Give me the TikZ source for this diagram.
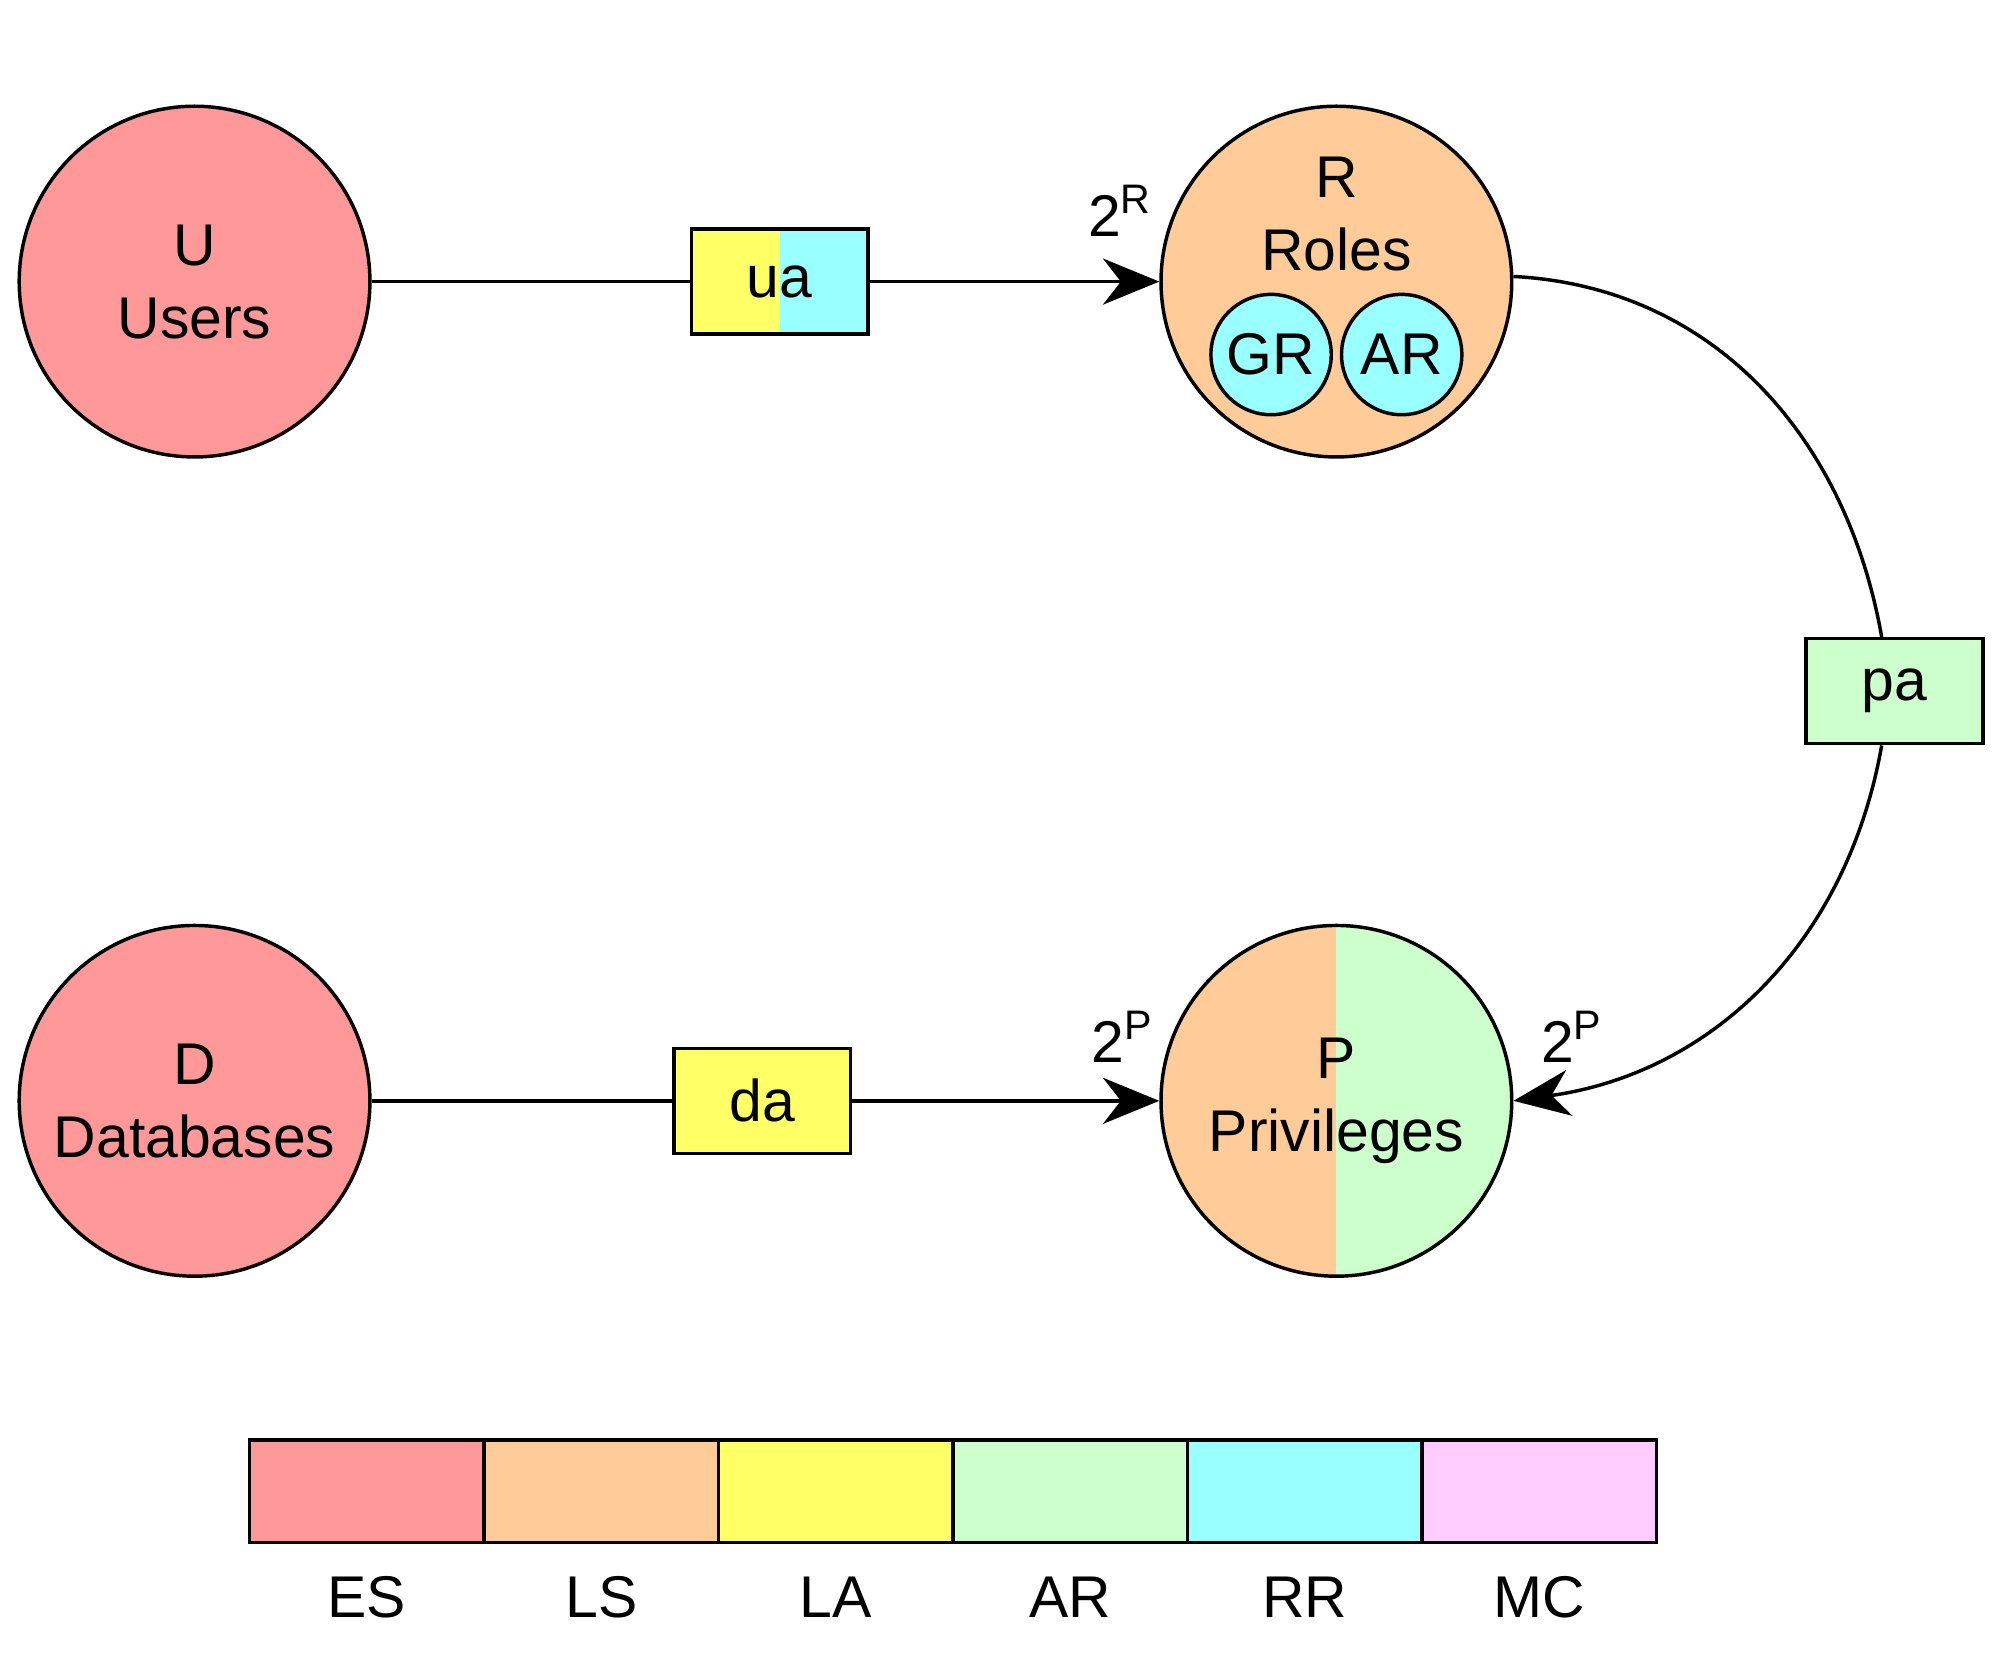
\documentclass[tikz,border=0pt]{standalone}
\usepackage{fontspec}
\setmainfont{Liberation Sans}
\usetikzlibrary{arrows.meta}
\definecolor{ES}{HTML}{FF9999}
\definecolor{LS}{HTML}{FFCC99}
\definecolor{LA}{HTML}{FFFF66}
\definecolor{AR}{HTML}{CCFFCC}
\definecolor{RR}{HTML}{99FFFF}
\definecolor{MC}{HTML}{FFCCFF}

\begin{document}
\begin{tikzpicture}[x=0.5pt,y=0.5pt,line width=1.35pt,
  font=\fontsize{23}{28.5}\selectfont,
  set/.style={circle,draw,minimum size=137pt,inner sep=0pt,align=center},
  subset/.style={circle,draw,fill=RR,minimum size=47pt,inner sep=0pt},
  rel/.style={rectangle,draw,minimum width=69pt,minimum height=41pt,inner sep=0pt},
  halves/.style 2 args={path picture={
    \fill[#1] (path picture bounding box.south west) rectangle (path picture bounding box.north);
    \fill[#2] (path picture bounding box.south) rectangle (path picture bounding box.north east);}},
  legcell/.style={rectangle,draw,minimum width=91.6pt,minimum height=40pt,inner sep=0pt},
  arr/.style={-{Stealth[length=22pt,width=18pt,inset=7pt]}}]
\useasboundingbox (0,0) rectangle (1564,1300);
% sets
\node[set,fill=ES] (U) at (152,1080) {U\\Users};
\node[set,fill=ES] (D) at (152,440) {D\\Databases};
\node[set,fill=LS] (R) at (1044,1080) {};
\node[align=center] (Rtext) at (1044,1133) {R\\Roles};
\node[subset] (GR) at (993,1023) {GR};
\node[subset] (ARr) at (1095,1023) {AR};
\node[set,halves={LS}{AR}] (P) at (1044,440) {P\\Privileges};
% relations
\node[rel,halves={LA}{RR}] (ua) at (609,1080) {ua};
\node[rel,fill=LA] (da) at (595.5,440) {da};
\node[rel,fill=AR] (pa) at (1480,760) {pa};
\draw (U) -- (ua);
\draw[arr] (ua) -- (R);
\draw (D) -- (da);
\draw[arr] (da) -- (P);
\draw ([yshift=2pt]R.east) to[out=-3,in=100] ([xshift=-5pt]pa.north);
\draw[arr] ([xshift=-5pt]pa.south) to[out=-100,in=8] (P.east);
\node (powR) at (875,1135) {2\textsuperscript{R}};
\node (powP) at (877,490) {2\textsuperscript{P}};
\node (powPa) at (1228,490) {2\textsuperscript{P}};
% legend
\foreach \c [count=\i from 0] in {ES,LS,LA,AR,RR,MC} {
  \node[legcell,fill=\c] (leg\c) at ({286.6+183.2*\i},135) {};
  \node (lab\c) at ({286.6+183.2*\i},52) {\c};
}
\end{tikzpicture}
\end{document}
